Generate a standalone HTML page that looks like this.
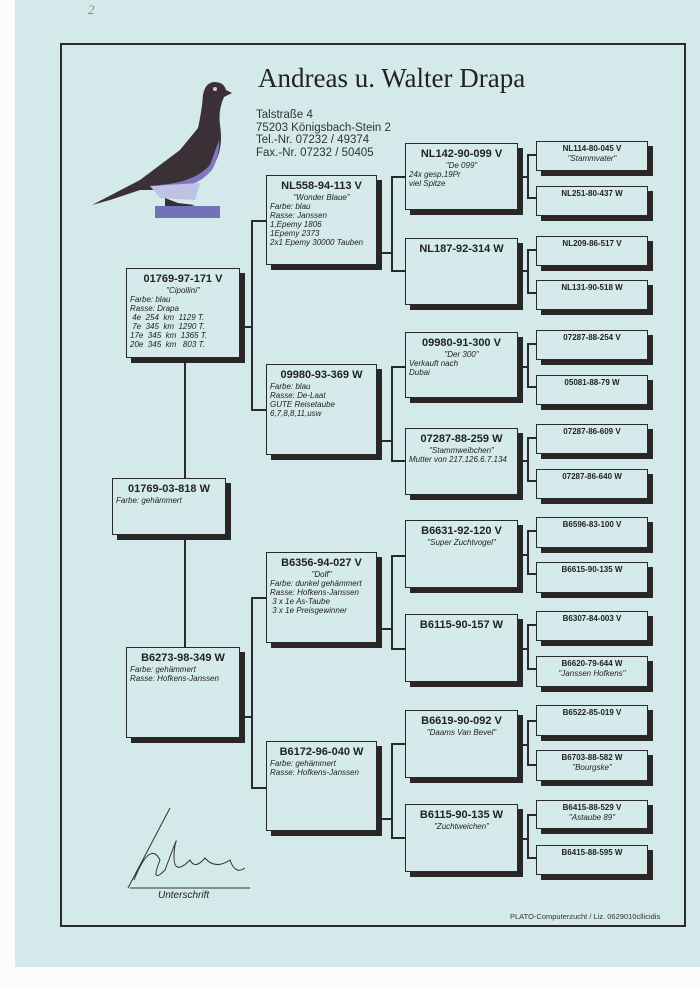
<!DOCTYPE html>
<html><head><meta charset="utf-8"><style>
*{margin:0;padding:0;box-sizing:border-box}
body{width:700px;height:990px;background:#fbfdfd;position:relative;overflow:hidden;font-family:"Liberation Sans",Arial,sans-serif;color:#222}
.paper{position:absolute;left:15px;top:0;width:685px;height:967px;background:#d3e9ea}
.frame{position:absolute;left:60px;top:43px;width:626px;height:884px;border:2px solid #2a2a2a}
.b{position:absolute;border:1.5px solid #2a2a2a;background:#d5eaeb;box-shadow:5px 5px 0 #2b2626;font-size:8px;line-height:9px;font-style:italic;padding:0 3px}
.b h{display:block;font-style:normal;font-weight:bold;font-size:11px;line-height:13px;text-align:center;margin-top:4px}
.b c{display:block;text-align:center}
.s h{font-size:8px;line-height:10px;margin-top:2px}
.l{position:absolute;background:#2a2a2a}
</style></head><body>
<div class="paper"></div>
<div style="position:absolute;left:88px;top:2px;font-family:'Liberation Serif',serif;font-size:13px;color:#888;font-style:italic">2</div>
<div class="frame"></div>
<svg style="position:absolute;left:85px;top:75px" width="160" height="150" viewBox="85 75 160 150">
<path d="M92 205 L140 180 L180 150 L198 128 Q202 110 203 95 Q205 83 214 82 Q224 82 226 90 L232 93 L224 97 Q218 110 220 125 Q224 150 212 168 Q195 185 170 190 L140 190 L110 200 Z" fill="#3a3036"/>
<path d="M160 190 Q195 190 212 170 Q220 155 219 140 L210 165 Q195 182 160 185 Z" fill="#7f77c0"/>
<path d="M150 186 L200 183 L195 200 L160 198 Z" fill="#c0c2e4"/>
<path d="M165 198 L178 203 L195 205 L185 208 L165 208Z" fill="#333"/>
<rect x="155" y="206" width="65" height="12" fill="#7172b8"/>
<circle cx="215" cy="89" r="2" fill="#ccc"/>
</svg>
<div style="position:absolute;left:258px;top:63px;font-family:'Liberation Serif',serif;font-size:27px;color:#222">Andreas u. Walter Drapa</div>
<div style="position:absolute;left:256px;top:109px;font-size:11.5px;line-height:12.5px;color:#333">Talstraße 4<br>75203 Königsbach-Stein 2<br>Tel.-Nr. 07232 / 49374<br>Fax.-Nr. 07232 / 50405</div>

<!-- connectors -->
<div class="l" style="left:184px;top:358px;width:2px;height:120px"></div>
<div class="l" style="left:184px;top:535px;width:2px;height:112px"></div>
<div class="l" style="left:240px;top:326px;width:12px;height:2px"></div>
<div class="l" style="left:251px;top:220px;width:2px;height:191px"></div>
<div class="l" style="left:251px;top:220px;width:15px;height:2px"></div>
<div class="l" style="left:251px;top:409px;width:15px;height:2px"></div>
<div class="l" style="left:240px;top:716px;width:12px;height:2px"></div>
<div class="l" style="left:251px;top:597px;width:2px;height:192px"></div>
<div class="l" style="left:251px;top:597px;width:15px;height:2px"></div>
<div class="l" style="left:251px;top:787px;width:15px;height:2px"></div>

<div class="l" style="left:377px;top:252px;width:16px;height:2px"></div>
<div class="l" style="left:391px;top:176px;width:2px;height:95px"></div>
<div class="l" style="left:391px;top:176px;width:14px;height:2px"></div>
<div class="l" style="left:391px;top:270px;width:14px;height:2px"></div>
<div class="l" style="left:377px;top:440px;width:16px;height:2px"></div>
<div class="l" style="left:391px;top:366px;width:2px;height:96px"></div>
<div class="l" style="left:391px;top:366px;width:14px;height:2px"></div>
<div class="l" style="left:391px;top:460px;width:14px;height:2px"></div>
<div class="l" style="left:377px;top:628px;width:16px;height:2px"></div>
<div class="l" style="left:391px;top:555px;width:2px;height:95px"></div>
<div class="l" style="left:391px;top:555px;width:14px;height:2px"></div>
<div class="l" style="left:391px;top:648px;width:14px;height:2px"></div>
<div class="l" style="left:377px;top:818px;width:16px;height:2px"></div>
<div class="l" style="left:391px;top:743px;width:2px;height:96px"></div>
<div class="l" style="left:391px;top:743px;width:14px;height:2px"></div>
<div class="l" style="left:391px;top:837px;width:14px;height:2px"></div>

<div class="l" style="left:518px;top:176px;width:10px;height:2px"></div><div class="l" style="left:527px;top:154px;width:2px;height:45px"></div><div class="l" style="left:527px;top:154px;width:9px;height:2px"></div><div class="l" style="left:527px;top:197px;width:9px;height:2px"></div>
<div class="l" style="left:518px;top:270px;width:10px;height:2px"></div><div class="l" style="left:527px;top:249px;width:2px;height:45px"></div><div class="l" style="left:527px;top:249px;width:9px;height:2px"></div><div class="l" style="left:527px;top:292px;width:9px;height:2px"></div>
<div class="l" style="left:518px;top:366px;width:10px;height:2px"></div><div class="l" style="left:527px;top:343px;width:2px;height:45px"></div><div class="l" style="left:527px;top:343px;width:9px;height:2px"></div><div class="l" style="left:527px;top:386px;width:9px;height:2px"></div>
<div class="l" style="left:518px;top:460px;width:10px;height:2px"></div><div class="l" style="left:527px;top:437px;width:2px;height:45px"></div><div class="l" style="left:527px;top:437px;width:9px;height:2px"></div><div class="l" style="left:527px;top:480px;width:9px;height:2px"></div>
<div class="l" style="left:518px;top:554px;width:10px;height:2px"></div><div class="l" style="left:527px;top:530px;width:2px;height:45px"></div><div class="l" style="left:527px;top:530px;width:9px;height:2px"></div><div class="l" style="left:527px;top:573px;width:9px;height:2px"></div>
<div class="l" style="left:518px;top:648px;width:10px;height:2px"></div><div class="l" style="left:527px;top:624px;width:2px;height:46px"></div><div class="l" style="left:527px;top:624px;width:9px;height:2px"></div><div class="l" style="left:527px;top:668px;width:9px;height:2px"></div>
<div class="l" style="left:518px;top:744px;width:10px;height:2px"></div><div class="l" style="left:527px;top:720px;width:2px;height:46px"></div><div class="l" style="left:527px;top:720px;width:9px;height:2px"></div><div class="l" style="left:527px;top:764px;width:9px;height:2px"></div>
<div class="l" style="left:518px;top:838px;width:10px;height:2px"></div><div class="l" style="left:527px;top:814px;width:2px;height:45px"></div><div class="l" style="left:527px;top:814px;width:9px;height:2px"></div><div class="l" style="left:527px;top:857px;width:9px;height:2px"></div>

<!-- gen1 -->
<div class="b" style="left:126px;top:268px;width:114px;height:90px"><h>01769-97-171 V</h><c>"Cipollini"</c>Farbe: blau<br>Rasse: Drapa<br>&nbsp;4e&nbsp; 254&nbsp; km&nbsp; 1129 T.<br>&nbsp;7e&nbsp; 345&nbsp; km&nbsp; 1290 T.<br>17e&nbsp; 345&nbsp; km&nbsp; 1365 T.<br>20e&nbsp; 345&nbsp; km&nbsp;&nbsp; 803 T.</div>
<div class="b" style="left:112px;top:478px;width:114px;height:57px"><h>01769-03-818 W</h>Farbe: gehämmert</div>
<div class="b" style="left:126px;top:647px;width:114px;height:91px"><h>B6273-98-349 W</h>Farbe: gehämmert<br>Rasse: Hofkens-Janssen</div>
<!-- gen2 -->
<div class="b" style="left:266px;top:175px;width:111px;height:90px"><h>NL558-94-113 V</h><c>"Wonder Blaue"</c>Farbe: blau<br>Rasse: Janssen<br>1,Epemy 1806<br>1Epemy 2373<br>2x1 Epemy 30000 Tauben</div>
<div class="b" style="left:266px;top:364px;width:111px;height:91px"><h>09980-93-369 W</h>Farbe: blau<br>Rasse: De-Laat<br>GUTE Reisetaube<br>6,7,8,8,11,usw</div>
<div class="b" style="left:266px;top:552px;width:111px;height:91px"><h>B6356-94-027 V</h><c>"Dolf"</c>Farbe: dunkel gehämmert<br>Rasse: Hofkens-Janssen<br>&nbsp;3 x 1e As-Taube<br>&nbsp;3 x 1e Preisgewinner</div>
<div class="b" style="left:266px;top:741px;width:111px;height:90px"><h>B6172-96-040 W</h>Farbe: gehämmert<br>Rasse: Hofkens-Janssen</div>
<!-- gen3 -->
<div class="b" style="left:405px;top:143px;width:113px;height:67px"><h>NL142-90-099 V</h><c>"De 099"</c>24x gesp,19Pr<br>viel Spitze</div>
<div class="b" style="left:405px;top:238px;width:113px;height:67px"><h>NL187-92-314 W</h></div>
<div class="b" style="left:405px;top:332px;width:113px;height:66px"><h>09980-91-300 V</h><c>"Der 300"</c>Verkauft nach<br>Dubai</div>
<div class="b" style="left:405px;top:428px;width:113px;height:67px"><h>07287-88-259 W</h><c>"Stammweibchen"</c>Mutter von 217.126.6.7.134</div>
<div class="b" style="left:405px;top:520px;width:113px;height:68px"><h>B6631-92-120 V</h><c>"Super Zuchtvogel"</c></div>
<div class="b" style="left:405px;top:614px;width:113px;height:68px"><h>B6115-90-157 W</h></div>
<div class="b" style="left:405px;top:710px;width:113px;height:68px"><h>B6619-90-092 V</h><c>"Daams Van Bevel"</c></div>
<div class="b" style="left:405px;top:804px;width:113px;height:68px"><h>B6115-90-135 W</h><c>"Zuchtweichen"</c></div>
<!-- gen4 -->
<div class="b s" style="left:536px;top:141px;width:112px;height:30px"><h>NL114-80-045 V</h><c>"Stammvater"</c></div>
<div class="b s" style="left:536px;top:186px;width:112px;height:30px"><h>NL251-80-437 W</h></div>
<div class="b s" style="left:536px;top:236px;width:112px;height:30px"><h>NL209-86-517 V</h></div>
<div class="b s" style="left:536px;top:280px;width:112px;height:30px"><h>NL131-90-518 W</h></div>
<div class="b s" style="left:536px;top:330px;width:112px;height:30px"><h>07287-88-254 V</h></div>
<div class="b s" style="left:536px;top:375px;width:112px;height:30px"><h>05081-88-79 W</h></div>
<div class="b s" style="left:536px;top:424px;width:112px;height:30px"><h>07287-86-609 V</h></div>
<div class="b s" style="left:536px;top:469px;width:112px;height:30px"><h>07287-86-640 W</h></div>
<div class="b s" style="left:536px;top:517px;width:112px;height:31px"><h>B6596-83-100 V</h></div>
<div class="b s" style="left:536px;top:562px;width:112px;height:31px"><h>B6615-90-135 W</h></div>
<div class="b s" style="left:536px;top:611px;width:112px;height:30px"><h>B6307-84-003 V</h></div>
<div class="b s" style="left:536px;top:656px;width:112px;height:31px"><h>B6620-79-644 W</h><c>"Janssen Hofkens"</c></div>
<div class="b s" style="left:536px;top:705px;width:112px;height:31px"><h>B6522-85-019 V</h></div>
<div class="b s" style="left:536px;top:750px;width:112px;height:31px"><h>B6703-88-582 W</h><c>"Bourgske"</c></div>
<div class="b s" style="left:536px;top:800px;width:112px;height:29px"><h>B6415-88-529 V</h><c>"Astaube 89"</c></div>
<div class="b s" style="left:536px;top:845px;width:112px;height:30px"><h>B6415-88-595 W</h></div>

<svg style="position:absolute;left:120px;top:800px" width="140" height="100">
<path d="M8 88 L50 8 M14 80 Q30 40 40 60 Q30 85 45 70 Q60 30 55 45 Q50 80 70 60 Q75 70 85 58 Q95 70 110 60 Q115 75 125 68" fill="none" stroke="#333" stroke-width="1"/>
<line x1="10" y1="88" x2="130" y2="88" stroke="#333" stroke-width="1"/>
</svg>
<div style="position:absolute;left:158px;top:890px;font-size:10px;font-style:italic">Unterschrift</div>
<div style="position:absolute;left:510px;top:912px;font-size:7.5px;color:#333">PLATO-Computerzucht / Liz. 0629010cllicidis</div>
</body></html>
